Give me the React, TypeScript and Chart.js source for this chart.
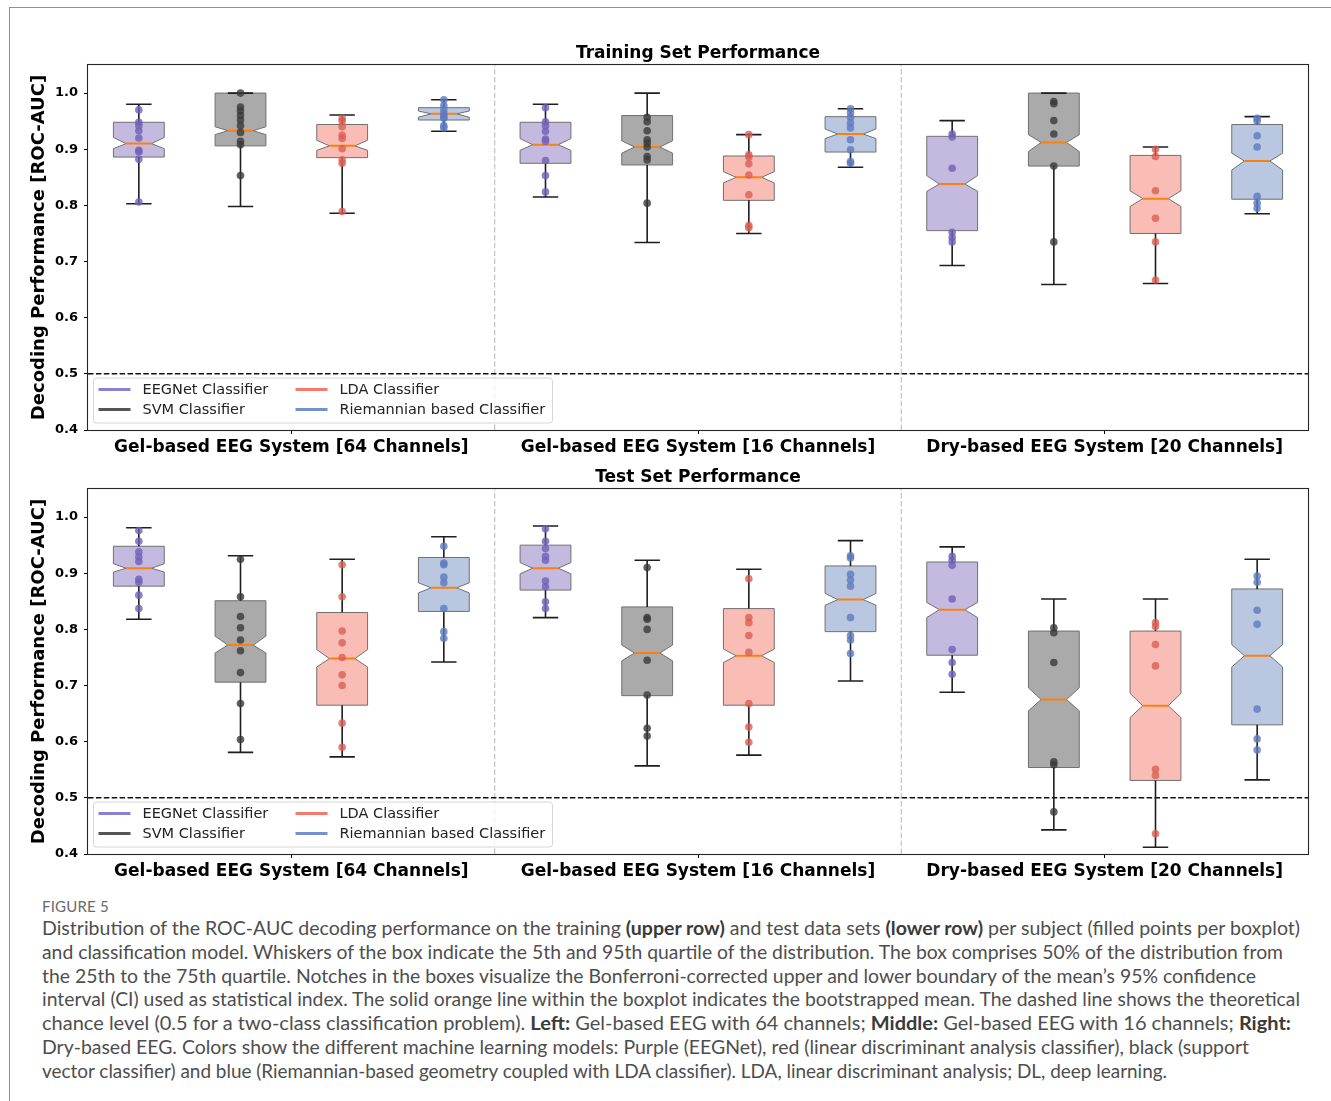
import React, { useEffect, useLayoutEffect, useRef } from 'react';
import { Chart, registerables } from 'chart.js';

Chart.register(...registerables);

// ---------------- data ----------------
const groups = [
  'Gel-based EEG System [64 Channels]',
  'Gel-based EEG System [16 Channels]',
  'Dry-based EEG System [20 Channels]',
];
const classifiers = ['EEGNet Classifier', 'SVM Classifier', 'LDA Classifier', 'Riemannian based Classifier'];
const yTicks = [0.4, 0.5, 0.6, 0.7, 0.8, 0.9, 1.0];
const yMin = 0.4;
const yMax = 1.05;
const chanceLevel = 0.5;

// order of the 12 boxes: per group -> EEGNet, SVM, LDA, Riemannian
const trainHigh = [0.980, 1.000, 0.961, 0.988, 0.980, 1.000, 0.926, 0.972, 0.951, 1.000, 0.904, 0.958];
const trainQ3 = [0.948, 1.000, 0.944, 0.974, 0.948, 0.960, 0.888, 0.958, 0.923, 1.000, 0.889, 0.944];
const trainNotchHi = [0.921, 0.940, 0.916, 0.968, 0.919, 0.915, 0.860, 0.936, 0.853, 0.926, 0.826, 0.893];
const trainMean = [0.910, 0.933, 0.906, 0.963, 0.908, 0.904, 0.850, 0.927, 0.838, 0.912, 0.812, 0.879];
const trainNotchLo = [0.901, 0.926, 0.898, 0.957, 0.898, 0.893, 0.840, 0.919, 0.825, 0.896, 0.798, 0.863];
const trainQ1 = [0.886, 0.906, 0.885, 0.952, 0.875, 0.872, 0.809, 0.895, 0.755, 0.870, 0.750, 0.811];
const trainLow = [0.803, 0.798, 0.786, 0.932, 0.815, 0.734, 0.750, 0.868, 0.693, 0.659, 0.661, 0.785];
const trainPoints = [
  [0.970, 0.948, 0.942, 0.933, 0.920, 0.898, 0.895, 0.882, 0.806],
  [1.000, 0.975, 0.968, 0.960, 0.952, 0.942, 0.930, 0.914, 0.908, 0.853],
  [0.955, 0.950, 0.940, 0.925, 0.919, 0.901, 0.881, 0.875, 0.789],
  [0.988, 0.978, 0.970, 0.963, 0.958, 0.955, 0.942, 0.938],
  [0.974, 0.949, 0.942, 0.932, 0.918, 0.914, 0.880, 0.853, 0.824],
  [0.957, 0.949, 0.933, 0.917, 0.911, 0.904, 0.887, 0.881, 0.804],
  [0.926, 0.890, 0.886, 0.874, 0.854, 0.819, 0.764, 0.760],
  [0.972, 0.965, 0.957, 0.947, 0.938, 0.917, 0.899, 0.878, 0.875],
  [0.927, 0.922, 0.866, 0.752, 0.743, 0.735],
  [0.985, 0.981, 0.951, 0.927, 0.870, 0.735],
  [0.900, 0.887, 0.826, 0.777, 0.735, 0.667],
  [0.955, 0.950, 0.924, 0.904, 0.816, 0.804, 0.795],
];

const testHigh = [0.981, 0.931, 0.925, 0.965, 0.984, 0.923, 0.907, 0.958, 0.947, 0.854, 0.854, 0.925];
const testQ3 = [0.948, 0.851, 0.830, 0.928, 0.950, 0.840, 0.837, 0.913, 0.920, 0.797, 0.797, 0.872];
const testNotchHi = [0.917, 0.788, 0.764, 0.883, 0.919, 0.772, 0.765, 0.864, 0.848, 0.696, 0.686, 0.773];
const testMean = [0.909, 0.772, 0.748, 0.874, 0.909, 0.758, 0.753, 0.853, 0.835, 0.675, 0.664, 0.753];
const testNotchLo = [0.902, 0.758, 0.733, 0.865, 0.899, 0.744, 0.741, 0.843, 0.821, 0.655, 0.643, 0.733];
const testQ1 = [0.877, 0.706, 0.665, 0.832, 0.870, 0.682, 0.665, 0.796, 0.754, 0.554, 0.531, 0.630];
const testLow = [0.818, 0.581, 0.573, 0.742, 0.821, 0.557, 0.576, 0.708, 0.688, 0.443, 0.412, 0.532];
const testPoints = [
  [0.976, 0.957, 0.938, 0.929, 0.921, 0.889, 0.884, 0.861, 0.837],
  [0.925, 0.858, 0.823, 0.803, 0.781, 0.762, 0.723, 0.668, 0.604],
  [0.915, 0.858, 0.797, 0.776, 0.750, 0.719, 0.700, 0.633, 0.590],
  [0.948, 0.918, 0.915, 0.893, 0.883, 0.837, 0.796, 0.784],
  [0.979, 0.957, 0.944, 0.930, 0.923, 0.886, 0.876, 0.849, 0.837],
  [0.910, 0.821, 0.818, 0.800, 0.745, 0.683, 0.624, 0.610],
  [0.890, 0.821, 0.812, 0.789, 0.759, 0.668, 0.626, 0.599],
  [0.931, 0.927, 0.898, 0.888, 0.877, 0.821, 0.789, 0.781, 0.757],
  [0.930, 0.923, 0.914, 0.854, 0.764, 0.741, 0.720],
  [0.803, 0.794, 0.741, 0.564, 0.559, 0.475],
  [0.812, 0.805, 0.773, 0.735, 0.551, 0.540, 0.436],
  [0.895, 0.884, 0.834, 0.809, 0.658, 0.605, 0.585],
];

// ---------------- styles ----------------
const FONT = "'DejaVu Sans', sans-serif";
const boxFill = ['#c4bae0', '#aaaaaa', '#f9bdb6', '#b9c7e1'];
const pointColor = ['rgba(112,96,184,0.8)', 'rgba(58,58,58,0.8)', 'rgba(218,92,82,0.78)', 'rgba(92,122,190,0.8)'];
const legendColor = ['#8b7fd1', '#555555', '#f47a6e', '#7391d1'];
const BOX_HALF = 0.25;
const NOTCH_HALF = 0.125;
const CAP_HALF = 0.125;
const NC = classifiers.length;

type Stats = {
  high: number[]; q3: number[]; notchHi: number[]; mean: number[];
  notchLo: number[]; q1: number[]; low: number[]; points: number[][];
};

const trainStats: Stats = {
  high: trainHigh, q3: trainQ3, notchHi: trainNotchHi, mean: trainMean,
  notchLo: trainNotchLo, q1: trainQ1, low: trainLow, points: trainPoints,
};
const testStats: Stats = {
  high: testHigh, q3: testQ3, notchHi: testNotchHi, mean: testMean,
  notchLo: testNotchLo, q1: testQ1, low: testLow, points: testPoints,
};

function notchedBoxPlugin(s: Stats) {
  return {
    id: 'notchedBoxes',
    beforeDatasetsDraw(chart: any) {
      const { ctx, chartArea, scales } = chart;
      const x = scales.x;
      const y = scales.y;
      ctx.save();
      ctx.beginPath();
      ctx.rect(chartArea.left, chartArea.top, chartArea.right - chartArea.left, chartArea.bottom - chartArea.top);
      ctx.clip();
      for (let i = 0; i < s.mean.length; i++) {
        const k = i % NC;
        const L = x.getPixelForValue(i - BOX_HALF);
        const R = x.getPixelForValue(i + BOX_HALF);
        const Ln = x.getPixelForValue(i - NOTCH_HALF);
        const Rn = x.getPixelForValue(i + NOTCH_HALF);
        const yQ3 = y.getPixelForValue(s.q3[i]);
        const yQ1 = y.getPixelForValue(s.q1[i]);
        const yNh = y.getPixelForValue(s.notchHi[i]);
        const yNl = y.getPixelForValue(s.notchLo[i]);
        const yM = y.getPixelForValue(s.mean[i]);
        ctx.beginPath();
        ctx.moveTo(L, yQ1);
        ctx.lineTo(L, yNl);
        ctx.lineTo(Ln, yM);
        ctx.lineTo(L, yNh);
        ctx.lineTo(L, yQ3);
        ctx.lineTo(R, yQ3);
        ctx.lineTo(R, yNh);
        ctx.lineTo(Rn, yM);
        ctx.lineTo(R, yNl);
        ctx.lineTo(R, yQ1);
        ctx.closePath();
        ctx.fillStyle = boxFill[k];
        ctx.fill();
        ctx.strokeStyle = '#707070';
        ctx.lineWidth = 1;
        ctx.stroke();
      }
      ctx.restore();
    },
  };
}

const framePlugin = {
  id: 'axesFrame',
  afterDatasetsDraw(chart: any) {
    const { ctx, chartArea: a } = chart;
    ctx.save();
    ctx.strokeStyle = '#262626';
    ctx.lineWidth = 1.1;
    ctx.strokeRect(a.left - 0.5, a.top - 0.5, a.right - a.left + 1, a.bottom - a.top + 1);
    ctx.restore();
  },
};

// title centred over the plotting area (as matplotlib does)
function areaTitlePlugin(text: string) {
  return {
    id: 'areaTitle',
    afterDraw(chart: any) {
      const { ctx, chartArea: a } = chart;
      ctx.save();
      ctx.font = `bold 17px ${FONT}`;
      ctx.fillStyle = '#000';
      ctx.textAlign = 'center';
      ctx.textBaseline = 'middle';
      ctx.fillText(text, (a.left + a.right) / 2, a.top - 11);
      ctx.restore();
    },
  };
}

const legendPlugin = {
  id: 'insideLegend',
  afterDraw(chart: any) {
    const { ctx, chartArea: a } = chart;
    const w = 459;
    const h = 45;
    const x0 = a.left + 5.5;
    const y0 = a.bottom - 7 - h;
    ctx.save();
    const r = 3;
    ctx.beginPath();
    ctx.moveTo(x0 + r, y0);
    ctx.lineTo(x0 + w - r, y0);
    ctx.arcTo(x0 + w, y0, x0 + w, y0 + r, r);
    ctx.lineTo(x0 + w, y0 + h - r);
    ctx.arcTo(x0 + w, y0 + h, x0 + w - r, y0 + h, r);
    ctx.lineTo(x0 + r, y0 + h);
    ctx.arcTo(x0, y0 + h, x0, y0 + h - r, r);
    ctx.lineTo(x0, y0 + r);
    ctx.arcTo(x0, y0, x0 + r, y0, r);
    ctx.closePath();
    ctx.fillStyle = 'rgba(255,255,255,0.8)';
    ctx.fill();
    ctx.strokeStyle = '#d6d6d6';
    ctx.lineWidth = 1;
    ctx.stroke();
    ctx.font = `14.5px ${FONT}`;
    ctx.textBaseline = 'middle';
    ctx.textAlign = 'left';
    classifiers.forEach((name, k) => {
      const col = k >= 2 ? 1 : 0;
      const row = k % 2;
      const cx = x0 + (col ? 197 : 0);
      const cy = y0 + 11.5 + row * 20;
      ctx.strokeStyle = legendColor[k];
      ctx.lineWidth = 3;
      ctx.beginPath();
      ctx.moveTo(cx + 5, cy);
      ctx.lineTo(cx + 37, cy);
      ctx.stroke();
      ctx.fillStyle = '#222';
      ctx.fillText(name, cx + 49, cy + 0.5);
    });
    ctx.restore();
  },
};

function buildDatasets(s: Stats) {
  const ds: any[] = [];
  for (let k = 0; k < NC; k++) {
    const data: any[] = [];
    for (let g = 0; g < groups.length; g++) {
      const i = g * NC + k;
      s.points[i].forEach((v) => data.push({ x: i, y: v }));
    }
    ds.push({
      type: 'scatter', label: classifiers[k], data, order: 0,
      pointRadius: 3.8, pointBackgroundColor: pointColor[k], pointBorderWidth: 0, pointHoverRadius: 3.8,
    });
  }
  const means: any[] = [];
  const whiskers: any[] = [];
  const caps: any[] = [];
  for (let i = 0; i < s.mean.length; i++) {
    means.push({ x: i - NOTCH_HALF, y: s.mean[i] }, { x: i + NOTCH_HALF, y: s.mean[i] }, { x: i, y: null });
    whiskers.push(
      { x: i, y: s.q3[i] }, { x: i, y: s.high[i] }, { x: i, y: null },
      { x: i, y: s.q1[i] }, { x: i, y: s.low[i] }, { x: i, y: null },
    );
    caps.push(
      { x: i - CAP_HALF, y: s.high[i] }, { x: i + CAP_HALF, y: s.high[i] }, { x: i, y: null },
      { x: i - CAP_HALF, y: s.low[i] }, { x: i + CAP_HALF, y: s.low[i] }, { x: i, y: null },
    );
  }
  const lineBase = { type: 'line', pointRadius: 0, pointHoverRadius: 0, spanGaps: false, fill: false, tension: 0 };
  ds.push({ ...lineBase, label: 'mean', data: means, borderColor: '#ff7f0e', borderWidth: 2, order: 1 });
  ds.push({ ...lineBase, label: 'whiskers', data: whiskers, borderColor: '#1e1e1e', borderWidth: 1.6, order: 2 });
  ds.push({ ...lineBase, label: 'caps', data: caps, borderColor: '#1e1e1e', borderWidth: 1.6, order: 2 });
  const nBoxes = groups.length * NC;
  ds.push({
    ...lineBase, label: 'chance', order: 3,
    data: [{ x: -0.5, y: chanceLevel }, { x: nBoxes - 0.5, y: chanceLevel }],
    borderColor: '#111', borderWidth: 1.5, borderDash: [5.5, 2.4],
  });
  for (let g = 1; g < groups.length; g++) {
    ds.push({
      ...lineBase, label: 'divider' + g, order: 4,
      data: [{ x: g * NC - 0.5, y: yMin }, { x: g * NC - 0.5, y: yMax }],
      borderColor: '#cccccc', borderWidth: 1.4, borderDash: [5.5, 2.4],
    });
  }
  return ds;
}

function makeConfig(title: string, s: Stats): any {
  const nBoxes = groups.length * NC;
  return {
    type: 'scatter',
    data: { datasets: buildDatasets(s) },
    options: {
      responsive: false,
      animation: false,
      devicePixelRatio: 1,
      events: [],
      layout: { padding: { left: 10, right: 23, top: 35, bottom: 0 } },
      plugins: {
        legend: { display: false },
        tooltip: { enabled: false },
        title: { display: false },
      },
      scales: {
        x: {
          type: 'linear', min: -0.5, max: nBoxes - 0.5,
          afterBuildTicks: (sc: any) => { sc.ticks = groups.map((_, g) => ({ value: g * NC + 1.5 })); },
          afterFit: (sc: any) => { sc.height = 30; },
          ticks: {
            callback: (_v: any, idx: number) => groups[idx],
            color: '#000', font: { family: FONT, size: 17, weight: 'bold' },
            padding: 3, autoSkip: false, maxRotation: 0, minRotation: 0,
          },
          grid: { display: true, drawOnChartArea: false, drawTicks: true, tickLength: 4, tickColor: '#000' },
          border: { display: false },
        },
        y: {
          type: 'linear', min: yMin, max: yMax,
          afterBuildTicks: (sc: any) => { sc.ticks = yTicks.map((v) => ({ value: v })); },
          afterFit: (sc: any) => { sc.width = 78; },
          ticks: {
            callback: (v: any) => Number(v).toFixed(1),
            color: '#000', font: { family: FONT, size: 13, weight: 'bold' }, padding: 6,
          },
          grid: { display: true, drawOnChartArea: false, drawTicks: true, tickLength: 4, tickColor: '#000' },
          border: { display: false },
          title: {
            display: true, text: 'Decoding Performance [ROC-AUC]', color: '#000',
            font: { family: FONT, size: 18, weight: 'bold' },
            padding: { top: 19, bottom: 0 },
          },
        },
      },
    },
    plugins: [notchedBoxPlugin(s), framePlugin, legendPlugin, areaTitlePlugin(title)],
  };
}

function Panel({ title, stats, top }: { title: string; stats: Stats; top: number }) {
  const ref = useRef<HTMLCanvasElement>(null);
  useEffect(() => {
    const chart = new Chart(ref.current as HTMLCanvasElement, makeConfig(title, stats));
    return () => chart.destroy();
  }, [title, stats]);
  return (
    <canvas
      ref={ref}
      width={1331}
      height={430}
      style={{ position: 'absolute', left: 0, top, width: 1331, height: 430, display: 'block' }}
    />
  );
}

type Seg = [string, boolean];
const captionLines: { segs: Seg[]; end: number }[] = [
  { end: 1300, segs: [['Distribution of the ROC-AUC decoding performance on the training ', false], ['(upper row)', true], [' and test data sets ', false], ['(lower row)', true], [' per subject (filled points per boxplot)', false]] },
  { end: 1283, segs: [['and classification model. Whiskers of the box indicate the 5th and 95th quartile of the distribution. The box comprises 50% of the distribution from', false]] },
  { end: 1256, segs: [['the 25th to the 75th quartile. Notches in the boxes visualize the Bonferroni-corrected upper and lower boundary of the mean\u2019s 95% confidence', false]] },
  { end: 1300, segs: [['interval (CI) used as statistical index. The solid orange line within the boxplot indicates the bootstrapped mean. The dashed line shows the theoretical', false]] },
  { end: 1291, segs: [['chance level (0.5 for a two-class classification problem). ', false], ['Left:', true], [' Gel-based EEG with 64 channels; ', false], ['Middle:', true], [' Gel-based EEG with 16 channels; ', false], ['Right:', true]] },
  { end: 1249, segs: [['Dry-based EEG. Colors show the different machine learning models: Purple (EEGNet), red (linear discriminant analysis classifier), black (support', false]] },
  { end: 1167, segs: [['vector classifier) and blue (Riemannian-based geometry coupled with LDA classifier). LDA, linear discriminant analysis; DL, deep learning.', false]] },
];

const CAPTION_LEFT = 42;

function CaptionLine({ segs, end }: { segs: Seg[]; end: number }) {
  const ref = useRef<HTMLSpanElement>(null);
  useLayoutEffect(() => {
    const el = ref.current;
    if (!el) return;
    el.style.transform = 'none';
    const w = el.getBoundingClientRect().width;
    if (w > 0) el.style.transform = `scaleX(${(end - CAPTION_LEFT) / w})`;
  }, [end]);
  return (
    <div style={{ height: 23.83, lineHeight: '23.83px', whiteSpace: 'nowrap' }}>
      <span ref={ref} style={{ display: 'inline-block', transformOrigin: '0 50%', whiteSpace: 'pre' }}>
        {segs.map(([t, b], si) => (
          <span key={si} style={{ fontWeight: b ? 700 : 400, color: b ? '#3a3a3a' : undefined }}>{t}</span>
        ))}
      </span>
    </div>
  );
}

export default function App() {
  return (
    <div style={{ position: 'absolute', left: 0, top: 0, width: 1331, height: 1101, overflow: 'hidden', background: '#fff' }}>
      <div
        style={{
          position: 'absolute', left: 9, top: 7, width: 1340, height: 1200,
          borderLeft: '1px solid #8f8f8f', borderTop: '1px solid #8f8f8f',
        }}
      />
      <Panel title="Training Set Performance" stats={trainStats} top={30} />
      <Panel title="Test Set Performance" stats={testStats} top={454} />
      <div
        style={{
          position: 'absolute', left: CAPTION_LEFT, top: 897, fontFamily: 'Lato, sans-serif', fontSize: 15,
          color: '#6a6a6a', lineHeight: '18px', letterSpacing: 0.2,
        }}
      >
        FIGURE 5
      </div>
      <div style={{ position: 'absolute', left: CAPTION_LEFT, top: 917, fontFamily: 'Lato, sans-serif', fontSize: 18.5, color: '#4e4e4e' }}>
        {captionLines.map((ln, li) => (
          <CaptionLine key={li} segs={ln.segs} end={ln.end} />
        ))}
      </div>
    </div>
  );
}
